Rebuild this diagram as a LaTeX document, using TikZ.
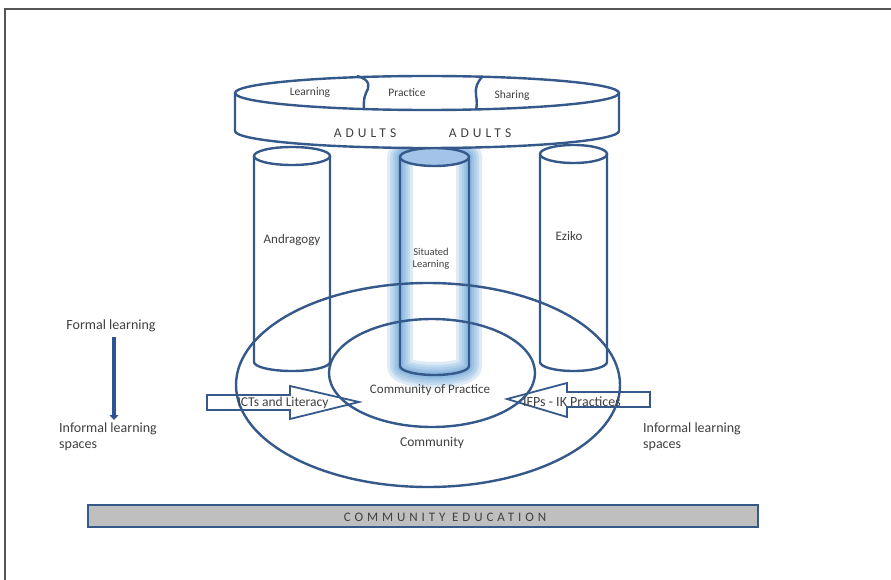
\documentclass[tikz,border=0pt]{standalone}
\usepackage{fontspec}
\setmainfont{Carlito}
\usetikzlibrary{arrows.meta}
\definecolor{lineblue}{HTML}{35598A}
\definecolor{txt}{HTML}{404040}
\definecolor{glowblue}{HTML}{5B9BD5}
\definecolor{capblue}{HTML}{A3C4E8}
\definecolor{framecol}{HTML}{555555}
\definecolor{bargray}{HTML}{BFBFBF}
\definecolor{darrow}{HTML}{2F5496}
\newfontfamily\spaced[LetterSpace=30]{Carlito}
\tikzset{
  ln/.style={draw=lineblue, line width=2.4},
  lbl/.style={text=txt, inner sep=0pt, font=\fontsize{13}{15}\selectfont},
  small/.style={text=txt, inner sep=0pt, font=\fontsize{11.5}{13}\selectfont},
  tiny/.style={text=txt, inner sep=0pt, font=\fontsize{10.5}{12.5}\selectfont, align=center},
  side/.style={text=txt, inner sep=0pt, font=\fontsize{14}{16}\selectfont, align=left, anchor=north west},
  caps/.style={text=txt, inner sep=0pt, font=\spaced\fontsize{13.5}{15}\selectfont},
  glow/.style={draw=glowblue, line join=round, opacity=0.2}
}
\begin{document}
\begin{tikzpicture}[x=1pt,y=-1pt]
\useasboundingbox (0,0) rectangle (891,580);
\fill[white] (0,0) rectangle (891,580);
\draw[framecol, line width=1.5] (5,580) -- (5,9) -- (891,9);

% middle cylinder glow
\foreach \w in {26,20,15,10,6} {
  \draw[glow, line width=\w] (400,157) -- (400,366) arc[start angle=180,end angle=0,x radius=34.5,y radius=9] -- (469,157) arc[start angle=0,end angle=-180,x radius=34.5,y radius=9] -- cycle;
}
\fill[capblue] (434.5,157) ellipse[x radius=34.5, y radius=9];

% cylinders
\draw[ln] (292,156) ellipse[x radius=38, y radius=9];
\draw[ln] (254,156) -- (254,362) arc[start angle=180,end angle=0,x radius=38,y radius=9] -- (330,156);
\draw[ln] (434.5,157) ellipse[x radius=34.5, y radius=9];
\draw[ln] (400,157) -- (400,366) arc[start angle=180,end angle=0,x radius=34.5,y radius=9] -- (469,157);
\draw[ln] (573.5,154) ellipse[x radius=33.5, y radius=9];
\draw[ln] (540,154) -- (540,362) arc[start angle=180,end angle=0,x radius=33.5,y radius=9] -- (607,154);

% top disc
\fill[white] (235,93) -- (235,131) arc[start angle=180,end angle=0,x radius=192,y radius=17] -- (619,93) arc[start angle=0,end angle=-180,x radius=192,y radius=17] -- cycle;
\draw[ln] (427,93) ellipse[x radius=192, y radius=17];
\draw[ln] (235,93) -- (235,131) arc[start angle=180,end angle=0,x radius=192,y radius=17] -- (619,93);
\draw[ln] (357,76) .. controls (372,80) and (369,88) .. (366,93) .. controls (363,99) and (364,106) .. (364,110);
\draw[ln] (483,76) .. controls (477,82) and (475,88) .. (476,95) .. controls (477,101) and (477,106) .. (476,110);

\node[small] (learn) at (310,93) {Learning};
\node[small] (pract) at (407,93) {Practice};
\node[small] (share) at (512,95) {Sharing};
\node[caps] (ad1) at (365,133) {ADULTS};
\node[caps] (ad2) at (480,133) {ADULTS};

% ellipses
\draw[ln] (428,385) ellipse[x radius=192, y radius=102];
\draw[ln] (432,373) ellipse[x radius=103, y radius=54];

% block arrows
\draw[draw=lineblue, line width=1.8, line join=miter] (207,395) -- (290,395) -- (290,386) -- (359,402) -- (290,419) -- (290,410) -- (207,410) -- cycle;
\draw[draw=lineblue, line width=1.8, line join=miter] (650,392) -- (567,392) -- (567,383) -- (507,399) -- (567,417) -- (567,407) -- (650,407) -- cycle;

% labels
\node[lbl] (andr) at (292,240) {Andragogy};
\node[tiny] (sit) at (431,259) {Situated\\Learning};
\node[lbl] (ezi) at (569,236) {Eziko};
\node[lbl] (cop) at (430,390) {Community of Practice};
\node[lbl, font=\fontsize{13.5}{15}\selectfont] (com) at (432,443) {Community};
\node[lbl, font=\fontsize{13.5}{15}\selectfont] (ict) at (283,403) {ICTs and Literacy};
\node[lbl, font=\fontsize{14}{15}\selectfont] (ifp) at (572,402) {IFPs - IK Practices};

% left side
\node[lbl, font=\fontsize{14}{16}\selectfont] (formal) at (111,326) {Formal learning};
\node[side] (infl) at (59,423) {Informal learning\\spaces};
\node[side] (infr) at (643,423) {Informal learning\\spaces};
\draw[darrow, line width=3.5, -{Triangle[width=9,length=5]}] (formal.south -| 114,0) ++(0,5) -- (114,420);

% bottom bar
\draw[fill=bargray, draw=lineblue, line width=2.5] (88,505) rectangle (758,527);
\node[caps, font=\spaced\fontsize{13}{15}\selectfont] (ce) at (445,517) {COMMUNITY EDUCATION};
\end{tikzpicture}
\end{document}
